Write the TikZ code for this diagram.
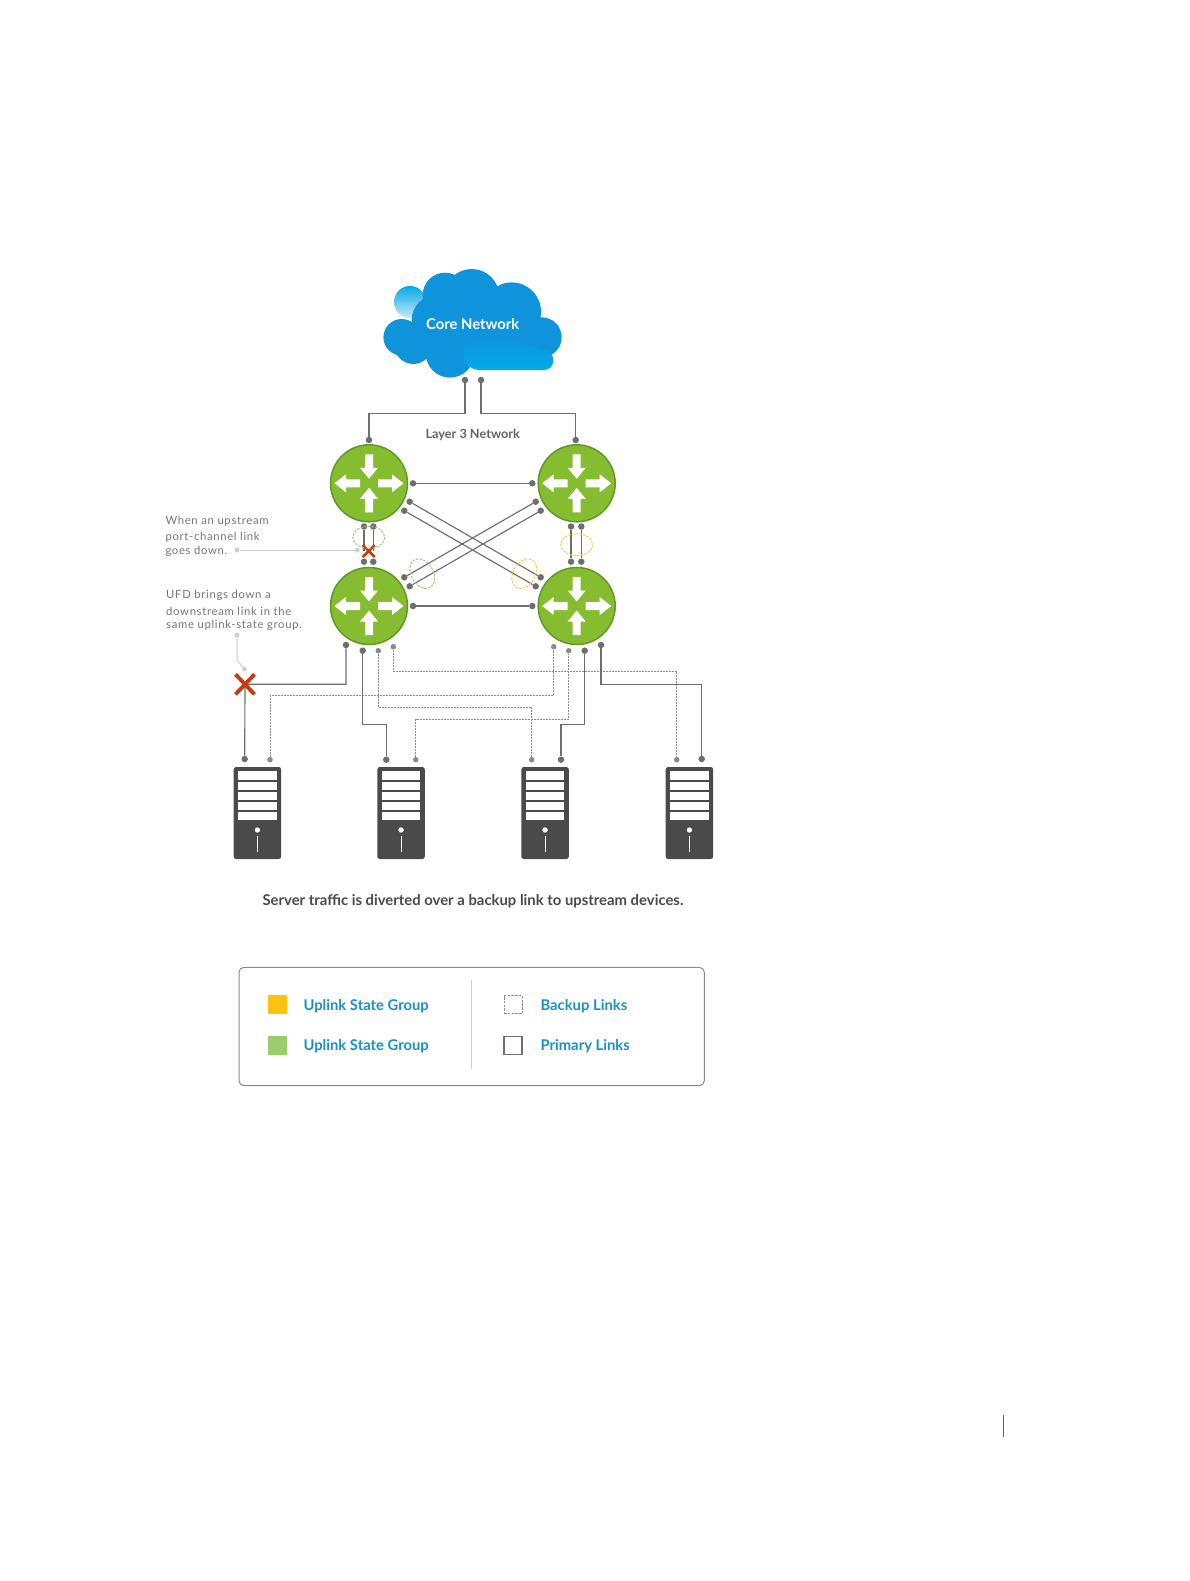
\documentclass[tikz,border=0pt]{standalone}
\usepackage{fontspec}
\setmainfont{Lato}
\usepackage{tikz}
\usetikzlibrary{calc, positioning}
\definecolor{mGreen}{HTML}{85BC30}
\definecolor{mGreenDk}{HTML}{5F9A28}
\definecolor{mCloud}{HTML}{0F94DB}
\definecolor{mCloudLt}{HTML}{03A9EA}
\definecolor{mDark}{HTML}{4A4A4A}
\definecolor{mLine}{HTML}{6E6E6E}
\definecolor{mDash}{HTML}{8A8A8A}
\definecolor{mRed}{HTML}{C73A0E}
\definecolor{mLead}{HTML}{CFCFCF}
\definecolor{mLegend}{HTML}{1B8FC6}
\definecolor{mYellow}{HTML}{FFC20E}
\definecolor{mLeaf}{HTML}{9CCB6A}
\definecolor{mRingG}{HTML}{A9B87C}
\definecolor{mRingY}{HTML}{E6CF3A}
\definecolor{mMark}{HTML}{0A7FBF}
\tikzset{
  routernode/.style={circle, draw=mGreenDk, fill=mGreen, line width=1.5pt, minimum size=77pt, inner sep=0pt},
  dotnode/.style={circle, fill=mLine, minimum size=6.5pt, inner sep=0pt},
  smalldot/.style={circle, fill=mDash, minimum size=5.5pt, inner sep=0pt},
  leaddot/.style={circle, fill=mLead, minimum size=5pt, inner sep=0pt},
  primary/.style={draw=mLine, line width=1.15pt},
  backup/.style={draw=mDash, line width=0.8pt, dash pattern=on 2pt off 1pt},
  leader/.style={draw=mLead, line width=1pt},
  ring/.style={line width=0.9pt, dash pattern=on 2.5pt off 1.2pt},
  callout/.style={anchor=west, font=\fontsize{11.3}{13}\selectfont, text=mDash!85!black, inner sep=0pt},
  legendtxt/.style={anchor=west, font=\fontsize{14.8}{17}\selectfont\bfseries, text=mLegend, inner sep=0pt},
  swatch/.style={minimum size=19pt, inner sep=0pt},
  cross/.style={draw=mRed, line width=2.6pt},
}
\begin{document}
\begin{tikzpicture}[x=1pt, y=-1pt]
  \useasboundingbox (0,0) rectangle (1189,1581);
  % cloud
  \shade[top color=mCloudLt, bottom color=mCloud!22] (410,302) circle (16);
  \fill[mCloud] (401.7,337.3) circle (18.3) (413.3,345) circle (19) (450,353.3) circle (24.3)
    (445,295) circle (22.3) (471.7,296.7) circle (27.7) (511.7,311.7) circle (29.3)
    (541.7,337.3) circle (20) (436.7,320) circle (25) (470,325) circle (40)
    (490,360) -- (490,320) -- (535,320) -- (535,360) -- cycle;
  \shade[top color=mCloud, middle color=mCloudLt, bottom color=mCloudLt] (480,370) -- (544,370)
    .. controls (556,370) and (556,352) .. (546,351) -- (530,346)
    .. controls (515,340) and (500,336) .. (480,336)
    .. controls (458,336) and (458,370) .. (480,370) -- cycle;
  \node[font=\fontsize{14.8}{17}\selectfont\bfseries, text=white, inner sep=0pt] (core) at (472.7,324.5) {Core Network};
  \node[font=\fontsize{12.7}{16}\selectfont\bfseries, text=mDark!85, inner sep=0pt] (layer) at (472.7,435) {Layer 3 Network};
  % routers
  \node[routernode] (rTL) at (369,483.3) {};
  \node[routernode] (rTR) at (576.7,483.3) {};
  \node[routernode] (rBL) at (369,606) {};
  \node[routernode] (rBR) at (576.7,606) {};
  \foreach \r in {rTL,rTR,rBL,rBR} {
    \begin{scope}[shift={(\r)}]
      \foreach \a in {0,180}
        \fill[white, rotate=\a] (9,-4) -- (23,-4) -- (23,-9) -- (34.5,0) -- (23,9) -- (23,4) -- (9,4) -- cycle;
      \foreach \a in {90,270}
        \fill[white, rotate=\a] (29,-4) -- (15.5,-4) -- (15.5,-9) -- (4.5,0) -- (15.5,9) -- (15.5,4) -- (29,4) -- cycle;
    \end{scope}
  }
  % dots, cloud and routers
  \foreach \n/\x/\y in {c1/465/380, c2/481/380, t1/369/440, t2/575.7/440,
      h1/413/483.3, h2/532.3/483.3, h3/413/606, h4/532.3/606,
      x1/409.7/501.7, x2/540.7/577.3, x3/404.3/510.7, x4/535.7/586.3,
      x5/535.7/501.7, x6/404.3/577.3, x7/540.7/510.7, x8/409.7/586.3,
      v1/571/526.5, v2/571/561.7, v3/581.3/526.5, v4/581.3/561.7,
      u1/364/526.5, u2/364/561.7, u3/373.3/526.5, u4/373.3/561.7,
      d1/346/645, d2/362.7/650.7, d8/584.7/650.7, d7/601/645,
      s1/244.7/759, s3/386.3/759.7, s6/561/759.7, s8/701.7/759}
    \node[dotnode] (\n) at (\x,\y) {};
  \foreach \n/\x/\y in {d3/378.3/650.7, d4/393.3/646.7, d5/553.7/646.7, d6/568.7/650.7,
      s2/270/759.7, s4/415.7/759.7, s5/531.7/759.7, s7/676.7/759.7}
    \node[smalldot] (\n) at (\x,\y) {};
  \draw[primary] (c1) -- (c1|-0,413.3) -| (t1);
  \draw[primary] (c2) -- (c2|-0,413.3) -| (t2);
  \foreach \a/\b in {h1/h2, h3/h4, x1/x2, x3/x4, x5/x6, x7/x8, v1/v2, v3/v4}
    \draw[primary] (\a) -- (\b);
  % failed port-channel
  \coordinate (xUp) at (368.7,551);
  \draw[primary] (u1) -- (u1|-xUp);
  \draw[primary] (u3) -- (u3|-xUp);
  \draw[cross] ($(xUp)+(-6,-6)$) -- ($(xUp)+(6,6)$) ($(xUp)+(6,-6)$) -- ($(xUp)+(-6,6)$);
  % rings
  \draw[ring, mRingG] (368.7,537.3) ellipse (16 and 11);
  \draw[ring, mRingY] (576.7,544.7) ellipse (16 and 11);
  \draw[ring, mRingG, rotate around={-60:(422.3,573.7)}] (422.3,573.7) ellipse (16 and 11);
  \draw[ring, mRingY, rotate around={60:(524.3,573.7)}] (524.3,573.7) ellipse (16 and 11);
  % links to servers
  \coordinate (xDn) at (245,684.3);
  \draw[backup] (s2) -- (s2|-0,695.7) -| (d5);
  \draw[backup] (d3) -- (d3|-0,707.3) -| (s5);
  \draw[backup] (d4) -- (d4|-0,671.3) -| (s7);
  \draw[backup] (s4) -- (s4|-0,719) -| (d6);
  \draw[primary] (d1) |- (xDn) -- (s1);
  \draw[primary] (d2) -- (d2|-0,724.3) -| (s3);
  \draw[primary] (d8) -- (d8|-0,724.3) -| (s6);
  \draw[primary] (d7) -- (d7|-0,684.3) -| (s8);
  \draw[cross, line width=3.8pt] ($(xDn)+(-9.5,-10)$) -- ($(xDn)+(9.5,10)$) ($(xDn)+(9.5,-10)$) -- ($(xDn)+(-9.5,10)$);
  % servers
  \foreach \n/\x in {srvA/233.7, srvB/377.3, srvC/521.3, srvD/665.7} {
    \fill[mDark, rounded corners=2.5pt] (\x,767) rectangle ++(47.5,92);
    \coordinate (\n) at (\x+23.75,830);
    \foreach \t/\b in {771.3/780.3, 781.7/790.3, 792/800.3, 801.7/810.3, 812.3/820.3}
      \fill[white] (\x+4.7,\t) rectangle (\x+42.8,\b);
    \fill[white] (\n) circle (2.7);
    \draw[white, line width=0.8pt] (\x+23.75,836) -- (\x+23.75,851.7);
  }
  % callouts
  \node[callout] (up1) at (165.3,521.7) {\addfontfeature{LetterSpace=6}When an upstream};
  \node[callout] (up2) at (165.3,537) {\addfontfeature{LetterSpace=6}port-channel link};
  \node[callout] (up3) at (165.3,551) {\addfontfeature{LetterSpace=6}goes down.};
  \node[callout] (uf1) at (166,595) {\addfontfeature{LetterSpace=6}UFD brings down a};
  \node[callout] (uf2) at (166,611) {\addfontfeature{LetterSpace=6}downstream link in the};
  \node[callout] (uf3) at (166,625.3) {\addfontfeature{LetterSpace=6}same uplink-state group.};
  \node[leaddot] (l1) at (237,550) {};
  \node[leaddot] (l2) at (357.3,550) {};
  \node[leaddot] (l3) at (237,635) {};
  \node[leaddot] (l4) at (244.3,669) {};
  \draw[leader] (l1) -- (l2);
  \draw[leader] (l3) -- (237,660) -- (l4);
  \node[font=\fontsize{14.85}{18}\selectfont\bfseries, text=mDark, inner sep=0pt] (caption) at (473,900.8)
    {Server traffic is diverted over a backup link to upstream devices.};
  % legend
  \draw[mDash, line width=1pt, rounded corners=5pt] (239,967.3) rectangle (704.3,1085.7);
  \draw[mLead, line width=1pt] (471,980) -- (471,1069.3);
  \node[swatch, fill=mYellow] (kA) at (277.2,1004.7) {};
  \node[swatch, fill=mLeaf] (kB) at (277.2,1045.3) {};
  \node[swatch, draw=mDash, dash pattern=on 2.5pt off 1.2pt, line width=1.4pt, minimum size=18pt] (kC) at (513.2,1004.7) {};
  \node[swatch, draw=mLine, line width=1.5pt, minimum size=18pt] (kD) at (513.2,1045.3) {};
  \node[legendtxt] (tA) at (303.3,1006) {Uplink State Group};
  \node[legendtxt] (tB) at (303.3,1046.3) {Uplink State Group};
  \node[legendtxt] (tC) at (540.3,1006) {Backup Links};
  \node[legendtxt] (tD) at (540.3,1046.3) {Primary Links};
  % page mark
  \draw[mMark, line width=1.6pt] (1003.5,1415) -- (1003.5,1437);
\end{tikzpicture}
\end{document}
